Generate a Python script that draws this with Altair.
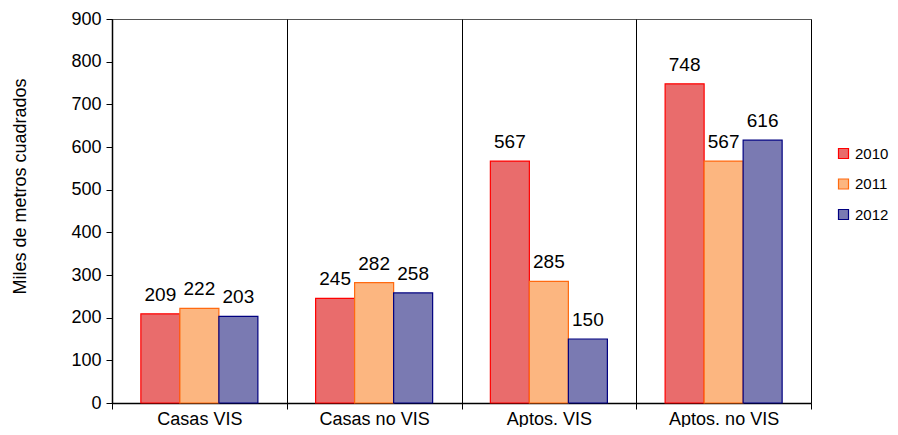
import altair as alt
import pandas as pd

categories = ["Casas VIS", "Casas no VIS", "Aptos. VIS", "Aptos. no VIS"]
years = ["2010", "2011", "2012"]
values_2010 = [209, 245, 567, 748]
values_2011 = [222, 282, 285, 567]
values_2012 = [203, 258, 150, 616]

rows = []
for i, c in enumerate(categories):
    for y, vals in zip(years, [values_2010, values_2011, values_2012]):
        rows.append({"cat": c, "year": y, "value": vals[i]})
df = pd.DataFrame(rows)

FONT = "Liberation Sans"
fills = ["#E96C6C", "#FCB680", "#7A7AB2"]
strokes = ["#FF0000", "#FF6A10", "#000080"]

x_enc = alt.X("cat:N", sort=categories, title=None,
              scale=alt.Scale(paddingInner=0, paddingOuter=0),
              axis=alt.Axis(tickBand="extent", grid=True, gridColor="#000000",
                            gridOpacity=1, gridWidth=1, labelAngle=0,
                            labelFontSize=18, labelFont=FONT, labelColor="#000",
                            labelPadding=1, tickSize=6, tickColor="#000",
                            domainColor="#000", domainWidth=1.5))
xoff = alt.XOffset("year:N", sort=years, scale=alt.Scale(paddingOuter=0.74, paddingInner=0))
y_enc = alt.Y("value:Q", scale=alt.Scale(domain=[0, 900]),
              axis=alt.Axis(values=list(range(0, 901, 100)), grid=False,
                            title="Miles de metros cuadrados", titleFont=FONT,
                            titleFontSize=18, titleFontWeight="normal", titleColor="#000",
                            titleX=-92, titleY=167, titleBaseline="middle",
                            labelFontSize=18, labelFont=FONT, labelColor="#000",
                            labelPadding=5, tickSize=6, tickColor="#000",
                            domainColor="#000", domainWidth=1.5))

base = alt.Chart(df)
bars = base.mark_bar(strokeWidth=1.2).encode(
    x=x_enc, xOffset=xoff, y=y_enc,
    color=alt.Color("year:N", sort=years,
                    scale=alt.Scale(domain=years, range=fills),
                    legend=alt.Legend(title=None, orient="none", legendX=724, legendY=127,
                                      symbolType="square", symbolSize=100,
                                      symbolStrokeWidth=1.2,
                                      labelFont=FONT, labelFontSize=15, labelColor="#000",
                                      labelOffset=4, rowPadding=14.5)),
    stroke=alt.Stroke("year:N", sort=years,
                      scale=alt.Scale(domain=years, range=strokes), legend=None),
)
labels = base.mark_text(baseline="bottom", dy=-9, font=FONT, fontSize=19, color="#000").encode(
    x=alt.X("cat:N", sort=categories), xOffset=alt.XOffset("year:N", sort=years),
    y="value:Q", text="value:Q",
)

chart = (bars + labels).properties(
    width=699, height=384,
    autosize=alt.AutoSizeParams(type="none"),
    padding={"left": 104, "top": 11, "right": 79, "bottom": 24},
).configure_view(stroke="#555555", strokeWidth=1)

chart.save("out.html", embed_options={"renderer": "svg", "actions": False})
